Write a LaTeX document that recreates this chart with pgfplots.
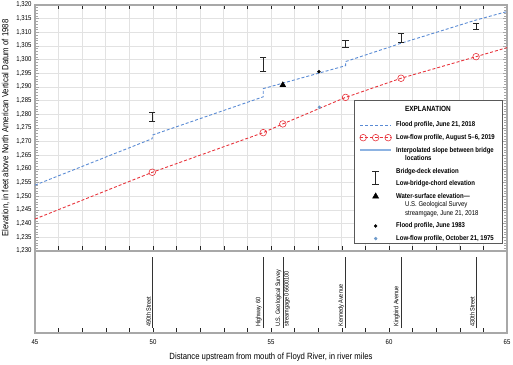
\documentclass[border=0pt]{standalone}
\usepackage{fontspec}
\setmainfont{Liberation Sans}[FakeStretch=0.86]
\usepackage{pgfplots}
\pgfplotsset{compat=1.18}
\definecolor{fblue}{HTML}{5A8BD4}
\definecolor{lblue}{HTML}{8DB3E2}
\definecolor{lred}{HTML}{E8343C}
\definecolor{gridc}{HTML}{E2E2E2}
\definecolor{dotblue}{HTML}{6F9BCB}
\definecolor{framec}{HTML}{A8A8A8}
\pgfplotsset{ibar/.style={forget plot, black!85, line width=0.6pt, mark=-, mark size=3.2pt, mark options={solid, line width=0.6pt}}}
\begin{document}
\begin{tikzpicture}
\begin{axis}[
 name=top, scale only axis, width=472pt, height=246pt,
 xmin=45, xmax=65, ymin=1230, ymax=1320,
 xtick={45,...,65}, xticklabels={},
 ytick={1230,1235,...,1320}, minor ytick={1230,...,1320},
 xmajorgrids, ymajorgrids, major grid style={gridc, line width=0.9pt},
 tick align=inside,
 major tick length=4.5pt, minor tick length=3pt,
 xtick style={black!85, line width=0.6pt},
 ytick style={gray!70, line width=0.6pt},
 axis line style={framec, line width=1.2pt},
 /pgf/number format/assume math mode=true,
 /pgf/number format/1000 sep={,},
 yticklabel style={font=\fontsize{7}{8}\selectfont},
 ylabel={Elevation, in feet above North American Vertical Datum of 1988},
 ylabel style={font=\fontsize{9}{10}\selectfont},
 legend style={at={(axis cs:58.6,1278.8)}, anchor=north west, draw=none, fill=none,
   font=\fontsize{7}{8.5}\selectfont\bfseries, row sep=2pt, cells={align=left},
   /tikz/every odd column/.style={column sep=2pt}},
 legend cell align=left,
]
% legend box
\draw[black!65, line width=0.7pt, fill=white] (axis cs:58.52,1285.2) rectangle (axis cs:64.79,1232.9);
\node[font=\fontsize{7.5}{8}\selectfont\bfseries] at (axis cs:61.65,1282.0) {EXPLANATION};

% flood profile June 21, 2018
\addplot[forget plot, fblue, densely dashed, line width=0.9pt] coordinates {
 (45,1254.1) (49.97,1271.1) (49.97,1272.4) (54.67,1286.4) (54.67,1289.4)
 (58.16,1297.8) (58.16,1299.3) (60.51,1306.0) (63.69,1314.5) (65,1317.6)};
% low-flow profile Aug 5-6, 2019
\addplot[forget plot, lred, densely dashed, line width=0.9pt, mark=o, mark size=3.3pt,
  mark indices={2,3,4,5,6,7}, mark options={solid, line width=0.6pt}] coordinates {
 (45,1241.7) (49.97,1258.8) (54.67,1273.3) (55.5,1276.5) (58.16,1286.2)
 (60.51,1293.2) (63.69,1301.1) (65,1304.4)};
% bridge deck (top) / low chord (bottom)
\addplot[ibar] coordinates {(49.97,1277.3) (49.97,1280.6)};
\addplot[ibar] coordinates {(54.67,1295.6) (54.67,1300.9)};
\addplot[ibar] coordinates {(58.16,1304.4) (58.16,1307.0)};
\addplot[ibar] coordinates {(60.51,1306.2) (60.51,1309.6)};
\addplot[ibar] coordinates {(63.69,1311.2) (63.69,1313.3)};
% water-surface elevation streamgage
\addplot[forget plot, only marks, mark=triangle*, mark size=3.4pt, black] coordinates {(55.5,1290.7)};
% flood profile June 1983
\addplot[forget plot, only marks, mark=*, mark size=1.5pt, black] coordinates {(57.03,1295.6)};
% low-flow Oct 21, 1975
\addplot[forget plot, only marks, mark=*, mark size=1.5pt, dotblue, draw=dotblue] coordinates {(57.05,1282.6)};

% legend
\addlegendimage{legend image code/.code={\draw[fblue, densely dashed, line width=0.8pt] (0pt,0pt) -- (31pt,0pt);}}
\addlegendentry{Flood profile, June 21, 2018}
\addlegendimage{legend image code/.code={\draw[lred, densely dashed, line width=0.9pt] (0pt,0pt) -- (31pt,0pt);
  \foreach \xx in {3,15.5,28}{\draw[lred, line width=0.6pt] (\xx pt,0pt) circle (3.3pt);}}}
\addlegendentry{Low-flow profile, August 5--6, 2019}
\addlegendimage{legend image code/.code={\draw[draw=lblue, line width=2pt] (0pt,4.25pt) -- (31pt,4.25pt);}}
\addlegendentry{Interpolated slope between bridge\\\hspace*{9pt}locations}
\addlegendimage{legend image code/.code={\draw[overlay, black!85, line width=0.6pt] (15.5pt,0pt) -- (15.5pt,-12.5pt)
  (12.3pt,0pt) -- (18.7pt,0pt) (12.3pt,-12.5pt) -- (18.7pt,-12.5pt);}}
\addlegendentry{Bridge-deck elevation}
\addlegendimage{empty legend}
\addlegendentry{Low-bridge-chord elevation}
\addlegendimage{legend image code/.code={\fill[black] (15.5pt,8.5pt) ++(90:3.6pt) -- ++(-120:6.2pt) -- ++(0:6.2pt) -- cycle;}}
\addlegendentry{Water-surface elevation---\\\hspace*{9pt}{\mdseries U.S. Geological Survey}\\\hspace*{9pt}{\mdseries streamgage, June 21, 2018}}
\addlegendimage{legend image code/.code={\fill[black] (15.5pt,0pt) circle (1.5pt);}}
\addlegendentry{Flood profile, June 1983}
\addlegendimage{legend image code/.code={\fill[dotblue] (15.5pt,0pt) circle (1.5pt);}}
\addlegendentry{Low-flow profile, October 21, 1975}
\end{axis}

\begin{axis}[
 at={(top.south west)}, anchor=north west,
 scale only axis, width=472pt, height=82pt,
 xmin=45, xmax=65, ymin=0, ymax=82,
 xtick={45,50,...,65}, minor xtick={45,...,65}, xtick pos=lower,
 ytick=\empty,
 tick align=inside, major tick length=5pt, minor tick length=5pt,
 xtick style={black!85, line width=0.6pt},
 axis line style={framec, line width=1.2pt},
 /pgf/number format/assume math mode=true,
 xticklabel style={font=\fontsize{7}{8}\selectfont, yshift=-3pt},
 xlabel={Distance upstream from mouth of Floyd River, in river miles},
 xlabel style={font=\fontsize{9}{10}\selectfont, yshift=-2pt},
 clip=false,
]
\addplot[black!80, line width=0.6pt] coordinates {(49.97,5) (49.97,76)};
\addplot[black!80, line width=0.6pt] coordinates {(54.67,5) (54.67,76)};
\addplot[black!80, line width=0.6pt] coordinates {(55.5,5) (55.5,76)};
\addplot[black!80, line width=0.6pt] coordinates {(58.16,5) (58.16,76)};
\addplot[black!80, line width=0.6pt] coordinates {(60.51,5) (60.51,76)};
\addplot[black!80, line width=0.6pt] coordinates {(63.69,5) (63.69,76)};
\begin{scope}[every node/.style={rotate=90, font=\fontsize{6.4}{7}\selectfont, inner sep=1.2pt}]
\node[anchor=south west] at (axis cs:49.97,5) {490th Street};
\node[anchor=south west] at (axis cs:54.67,5) {Highway 60};
\node[anchor=south west] at (axis cs:55.5,5) {U.S. Geological Survey};
\node[anchor=north west] at (axis cs:55.5,5) {streamgage 06600100};
\node[anchor=south west] at (axis cs:58.16,5) {Kennedy Avenue};
\node[anchor=south west] at (axis cs:60.51,5) {Kingbird Avenue};
\node[anchor=south west] at (axis cs:63.69,5) {430th Street};
\end{scope}
\end{axis}
\pgfresetboundingbox
\path[use as bounding box] ([xshift=-35pt,yshift=5pt]top.north west) rectangle ++(513pt,-364pt);
\end{tikzpicture}
\end{document}
